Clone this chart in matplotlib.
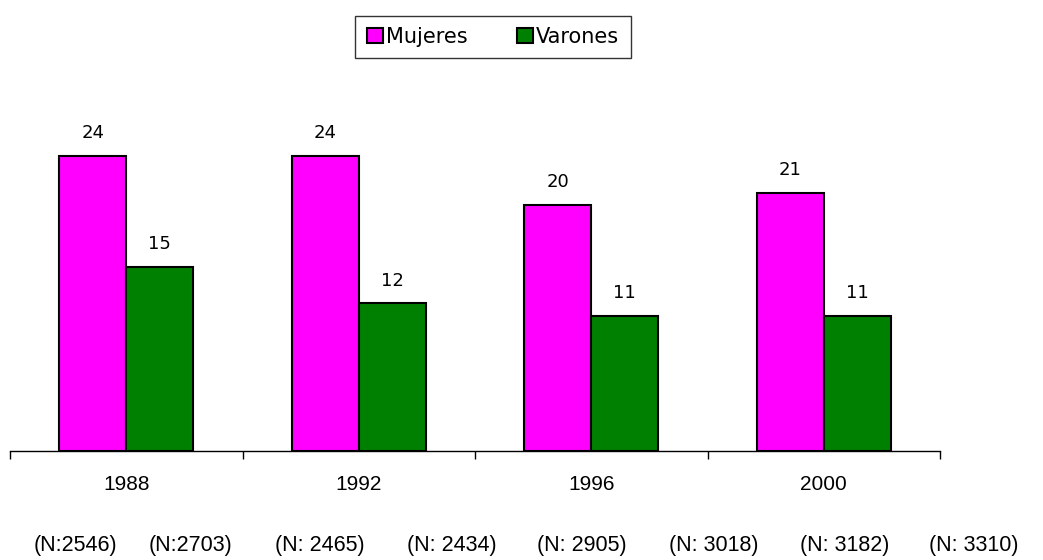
import numpy as np
import matplotlib
matplotlib.use('Agg')
import matplotlib.pyplot as plt

# data
years = ['1988', '1992', '1996', '2000']
mujeres = [24, 24, 20, 21]
varones = [15, 12, 11, 11]
nLabels = ['(N:2546)', '(N:2703)', '(N: 2465)', '(N: 2434)',
           '(N: 2905)', '(N: 3018)', '(N: 3182)', '(N: 3310)']

W, H = 1043, 560
fig = plt.figure(figsize=(W/100, H/100), dpi=100)
ax = fig.add_axes([10/W, (H-451)/H, 930/W, (451-82)/H])

x = np.arange(len(years))
bw = 0.288
b1 = ax.bar(x - bw/2, mujeres, bw, color='#FF00FF', edgecolor='black', lw=1.5, label='Mujeres', zorder=3)
b2 = ax.bar(x + bw/2, varones, bw, color='#008000', edgecolor='black', lw=1.5, label='Varones', zorder=3)

for bars, vals in [(b1, mujeres), (b2, varones)]:
    for rect, v in zip(bars, vals):
        ax.annotate(str(v), (rect.get_x() + rect.get_width()/2, v), xytext=(0, 10),
                    textcoords='offset points', ha='center', va='bottom',
                    fontsize=13, family='DejaVu Sans')

ax.set_xlim(-0.5, 3.5)
ax.set_ylim(0, 30)
for s in ['left', 'right', 'top']:
    ax.spines[s].set_visible(False)
ax.spines['bottom'].set_linewidth(1)
ax.set_yticks([])
ax.set_xticks(np.arange(-0.5, 4, 1))
ax.set_xticklabels([])
ax.tick_params(axis='x', which='major', direction='out', length=6, width=1)
ax.set_xticks(x, minor=True)
ax.set_xticklabels(years, minor=True)
ax.tick_params(axis='x', which='minor', length=0, pad=17, labelsize=15)
for t in ax.get_xticklabels(minor=True):
    t.set_family('Liberation Sans')

leg = fig.legend(handles=[b1, b2], labels=['Mujeres', 'Varones'], loc='center',
                 bbox_to_anchor=(493/W, 1 - 37/H), ncol=2, frameon=True, fancybox=False,
                 edgecolor='black', handlelength=0.75, handleheight=0.75, handletextpad=0.15,
                 columnspacing=2.4, borderpad=0.55, prop={'family': 'DejaVu Sans', 'size': 15})
leg.get_frame().set_linewidth(1)

nPos = [75, 190, 320, 452, 582, 714, 845, 974]
for px, lab in zip(nPos, nLabels):
    fig.text(px/W, 1 - 545/H, lab, ha='center', va='center', fontsize=15.5, family='Liberation Sans')

fig.savefig('out.png', dpi=100)
